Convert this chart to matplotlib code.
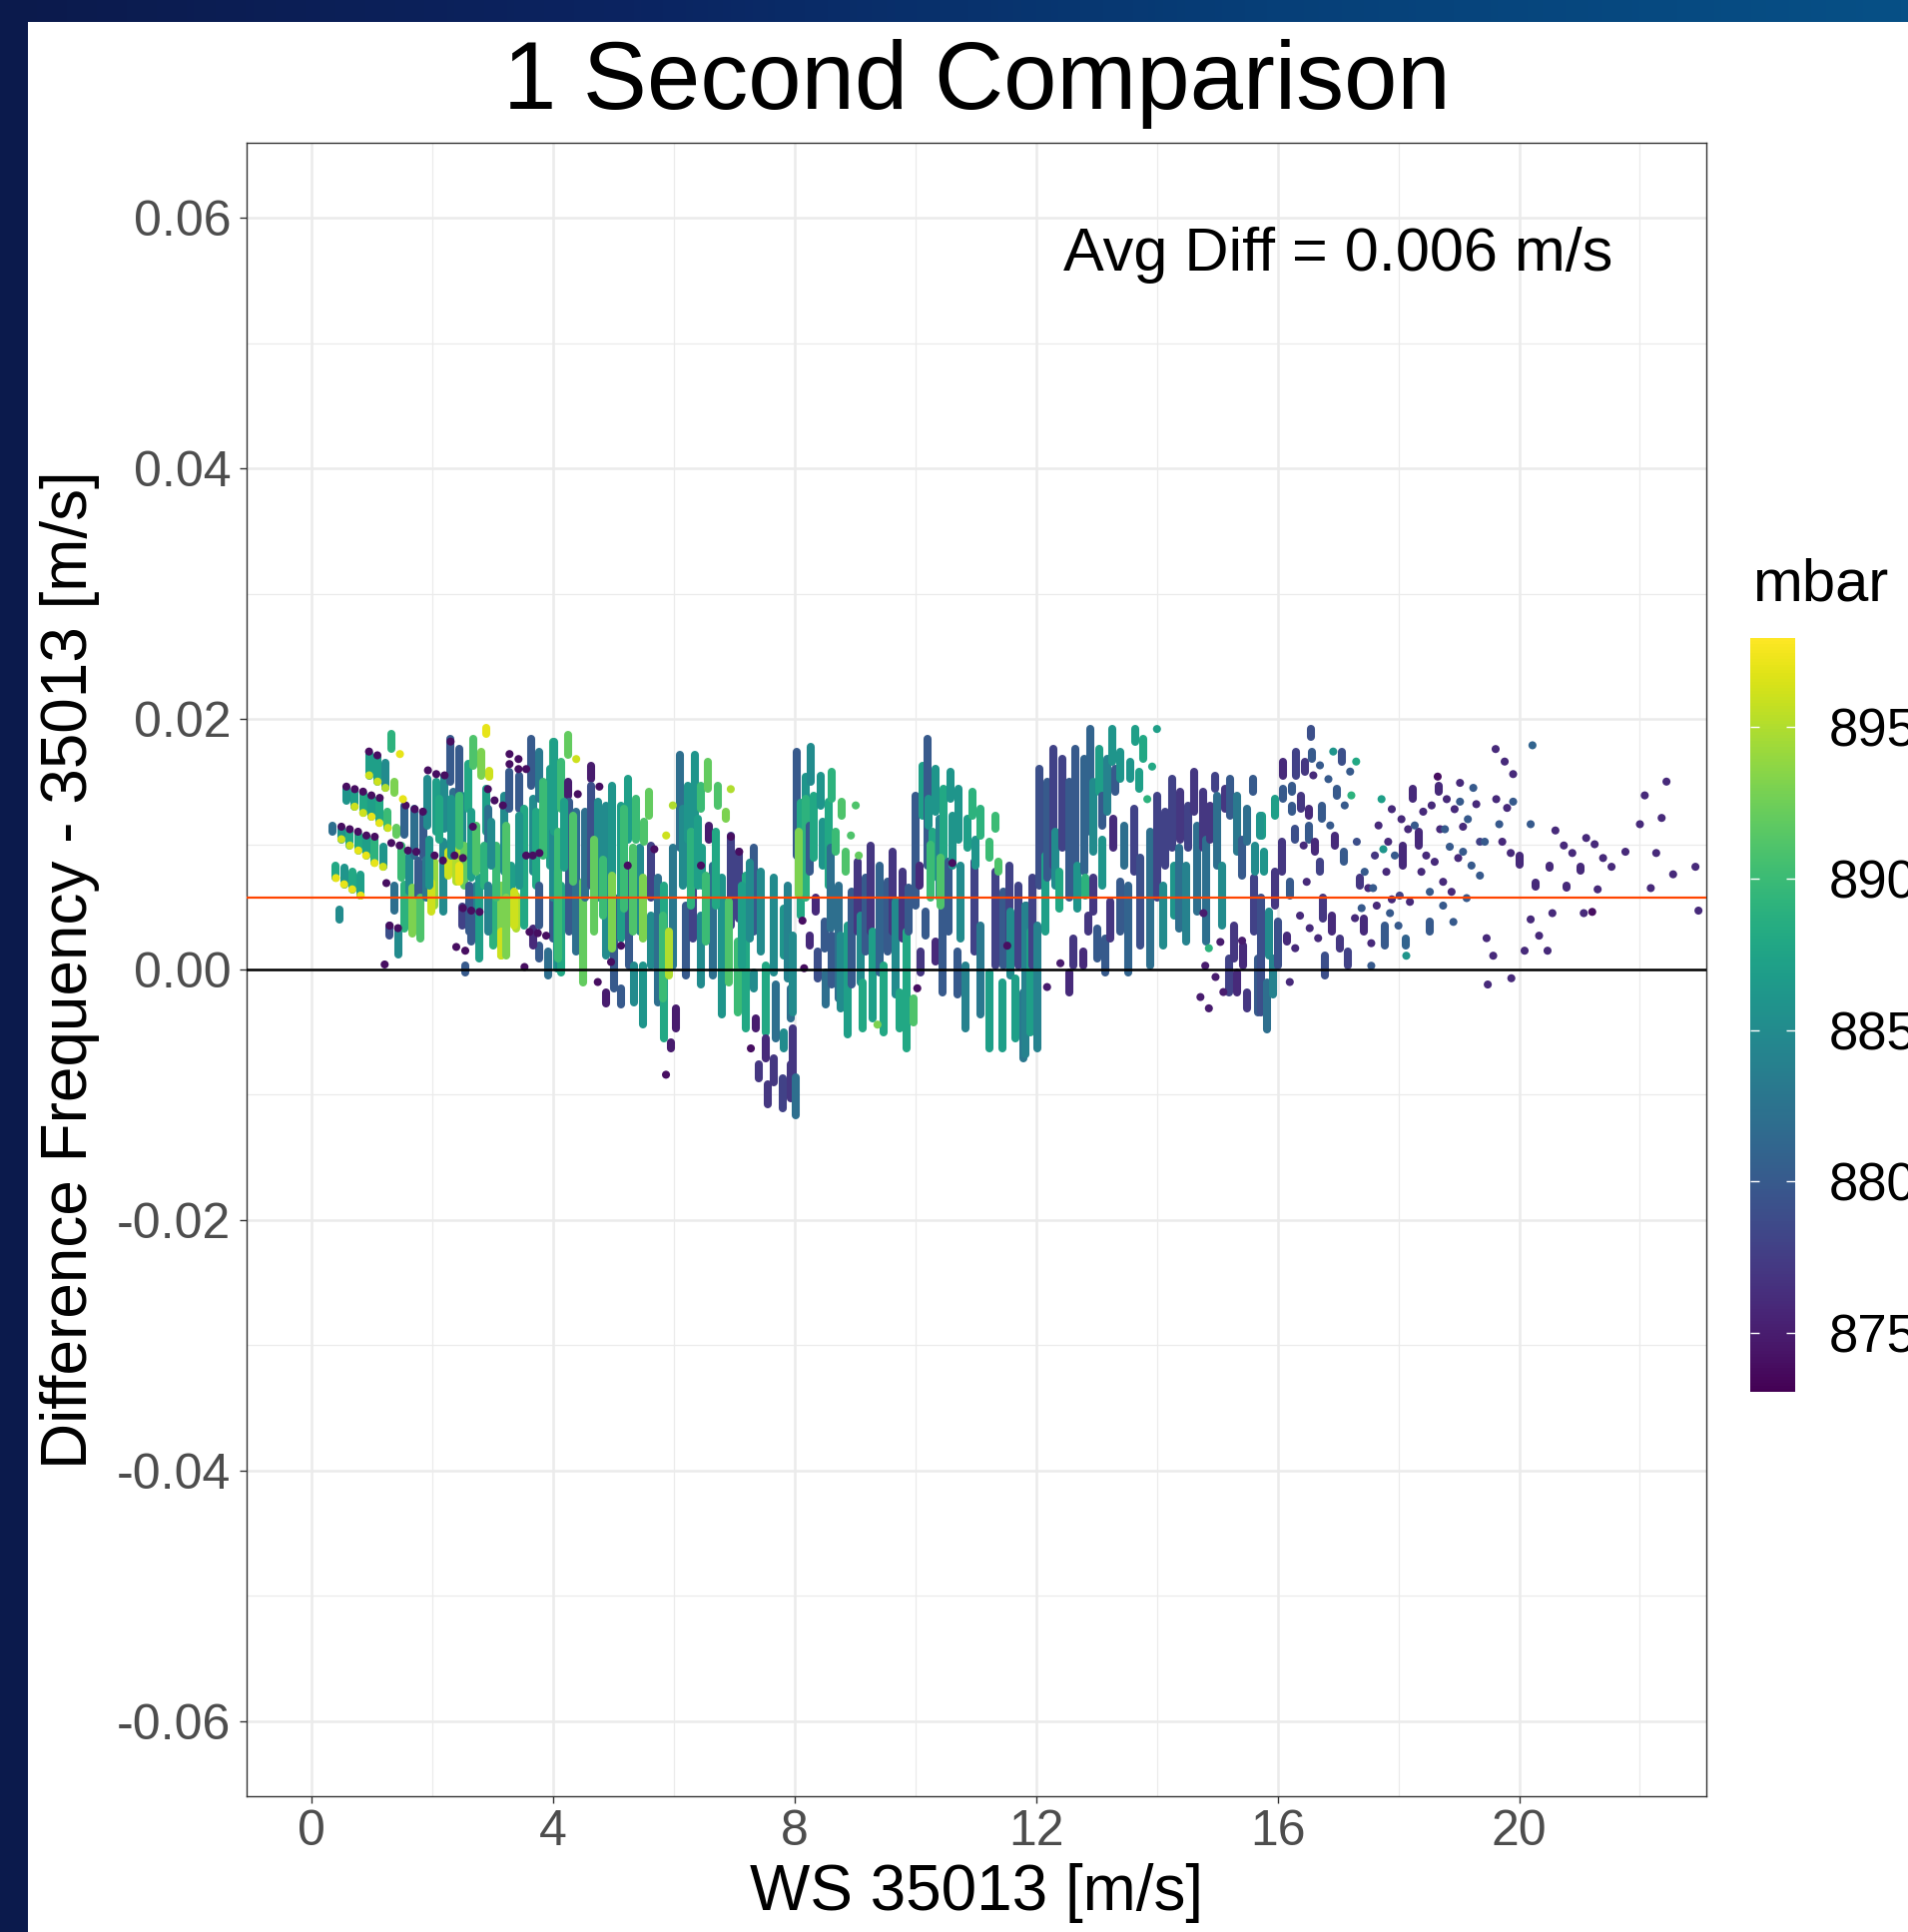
"""Scatter of wind-speed differences (1 s data) coloured by pressure, ggplot look."""

import numpy as np
import matplotlib

matplotlib.use("Agg")
import matplotlib.pyplot as plt
from matplotlib.cm import ScalarMappable
from matplotlib.collections import LineCollection
from matplotlib.colors import LinearSegmentedColormap, Normalize
from matplotlib.patches import Rectangle

plt.rcParams["font.family"] = ["Liberation Sans", "DejaVu Sans"]

TITLE = "1 Second Comparison"
X_LABEL = "WS 35013 [m/s]"
Y_LABEL = "Difference Frequency - 35013 [m/s]"
ANNOTATION = "Avg Diff = 0.006 m/s"
LEGEND_TITLE = "mbar"
AVG_DIFF = 0.0057
MBAR_MIN, MBAR_MAX = 873.06, 897.93
X_TICKS = [0, 4, 8, 12, 16, 20]
X_MINOR = [2, 6, 10, 14, 18, 22]
Y_TICKS = [-0.06, -0.04, -0.02, 0.00, 0.02, 0.04, 0.06]
Y_MINOR = [-0.05, -0.03, -0.01, 0.01, 0.03, 0.05]
MBAR_TICKS = [875, 880, 885, 890, 895]

# vertical runs of stacked points: (ws, diff top, diff bottom, mbar)
RUNS_0_4 = [
    (0.40, 0.0083, 0.0073, 888), (0.535, 0.0081, 0.0068, 886), (0.67, 0.0078, 0.0064, 888),
    (0.81, 0.0076, 0.0059, 887), (0.45, 0.0048, 0.0040, 885), (0.35, 0.0115, 0.0110, 882),
    (0.49, 0.0112, 0.0104, 886), (0.63, 0.0110, 0.0099, 888), (0.77, 0.0108, 0.0095, 888),
    (0.90, 0.0106, 0.0091, 887), (1.04, 0.0104, 0.0085, 889), (1.18, 0.0098, 0.0082, 886),
    (0.57, 0.0144, 0.0135, 886), (0.71, 0.0142, 0.0130, 887), (0.85, 0.0140, 0.0125, 888),
    (0.99, 0.0138, 0.0122, 887), (1.12, 0.0136, 0.0117, 888), (1.26, 0.0126, 0.0113, 890),
    (1.40, 0.0113, 0.0108, 892), (0.95, 0.0172, 0.0155, 887), (1.09, 0.0170, 0.0150, 887),
    (1.22, 0.0165, 0.0145, 885), (1.36, 0.0150, 0.0141, 893), (1.32, 0.0188, 0.0176, 889),
    (1.29, 0.0035, 0.0027, 879), (1.43, 0.0033, 0.0012, 885), (1.37, 0.0067, 0.0047, 882),
    (1.48, 0.0099, 0.0073, 890), (1.54, 0.0131, 0.0108, 881), (1.54, 0.0068, 0.0033, 889),
    (1.62, 0.0091, 0.0062, 885), (1.66, 0.0065, 0.0029, 893), (1.70, 0.0128, 0.0091, 882),
    (1.76, 0.0087, 0.0059, 880), (1.79, 0.0057, 0.0025, 891), (1.84, 0.0126, 0.0091, 880),
    (1.90, 0.0088, 0.0057, 883), (1.92, 0.0152, 0.0115, 885), (2.03, 0.0086, 0.0051, 894),
    (2.06, 0.0150, 0.0110, 887), (2.17, 0.0102, 0.0046, 885), (2.20, 0.0155, 0.0112, 885),
    (2.26, 0.0094, 0.0075, 896), (2.30, 0.0184, 0.0150, 880), (2.34, 0.0142, 0.0110, 882),
    (2.39, 0.0099, 0.0070, 895), (2.44, 0.0176, 0.0142, 880), (2.50, 0.0139, 0.0099, 885),
    (2.53, 0.0099, 0.0067, 892), (2.59, 0.0164, 0.0128, 888), (2.64, 0.0126, 0.0073, 887),
    (2.67, 0.0184, 0.0163, 891), (2.72, 0.0067, 0.0033, 884), (2.78, 0.0073, 0.0009, 887),
    (2.81, 0.0174, 0.0155, 893), (2.89, 0.0193, 0.0188, 897), (2.89, 0.0144, 0.0110, 887),
    (2.94, 0.0159, 0.0154, 896), (2.92, 0.0128, 0.0094, 882), (3.00, 0.0062, 0.0019, 889),
    (3.14, 0.0067, 0.0011, 893), (3.05, 0.0099, 0.0057, 890), (3.19, 0.0139, 0.0078, 885),
    (3.27, 0.0158, 0.0128, 880), (3.30, 0.0083, 0.0043, 887), (3.39, 0.0059, 0.0033, 895),
    (3.44, 0.0155, 0.0128, 880), (3.52, 0.0128, 0.0035, 888), (3.63, 0.0184, 0.0147, 880),
    (3.66, 0.0136, 0.0078, 885), (3.77, 0.0174, 0.0136, 883), (3.77, 0.0019, 0.0009, 880),
    (3.91, 0.0014, -0.0005, 882), (3.99, 0.0182, 0.0142, 889), (3.94, 0.0160, 0.0083, 887),
    (2.54, 0.0003, -0.0002, 880), (2.50, 0.0050, 0.0035, 878), (2.64, 0.0043, 0.0022, 880),
    (3.66, 0.0033, 0.0019, 876), (3.99, 0.0057, 0.0025, 880), (1.98, 0.0069, 0.0046, 896),
    (2.44, 0.0083, 0.0070, 897), (3.14, 0.0030, 0.0011, 896), (3.36, 0.0062, 0.0035, 896),
    (1.95, 0.0104, 0.0067, 886), (2.12, 0.0136, 0.0104, 888), (2.31, 0.0136, 0.0091, 886),
    (2.45, 0.0139, 0.0099, 890), (2.72, 0.0115, 0.0078, 891), (2.86, 0.0099, 0.0067, 889),
    (2.97, 0.0118, 0.0083, 885), (3.22, 0.0115, 0.0057, 891), (3.44, 0.0123, 0.0067, 886),
    (3.72, 0.0126, 0.0067, 888), (3.83, 0.0150, 0.0091, 890), (3.99, 0.0110, 0.0057, 885),
    (2.61, 0.0067, 0.0030, 880), (2.92, 0.0067, 0.0030, 884), (3.22, 0.0057, 0.0011, 893),
    (3.77, 0.0067, 0.0035, 880),
]
RUNS_4_8 = [
    (4.07, 0.0078, 0.0001, 886), (4.10, 0.0059, 0.0003, 885),
    (4.02, 0.0182, 0.0110, 887), (4.13, 0.0166, 0.0128, 890), (4.13, 0.0067, -0.0002, 888),
    (4.24, 0.0187, 0.0171, 892), (4.24, 0.0150, 0.0139, 875), (4.27, 0.0134, 0.0030, 880),
    (4.38, 0.0126, 0.0014, 882), (4.49, 0.0070, -0.0010, 892), (4.52, 0.0126, 0.0057, 882),
    (4.63, 0.0163, 0.0152, 875), (4.63, 0.0147, 0.0067, 879), (4.74, 0.0134, 0.0057, 885),
    (4.87, 0.0131, 0.0011, 885), (4.87, -0.0018, -0.0027, 875), (4.98, 0.0147, 0.0075, 886),
    (5.01, 0.0057, -0.0015, 880), (5.12, 0.0131, 0.0025, 887), (5.12, -0.0015, -0.0028, 880),
    (5.23, 0.0152, 0.0104, 887), (5.26, 0.0078, 0.0003, 880), (5.34, 0.0003, -0.0026, 885),
    (5.37, 0.0136, 0.0104, 890), (5.43, 0.0097, 0.0030, 885), (5.48, 0.0003, -0.0044, 886),
    (5.51, 0.0118, 0.0102, 891), (5.59, 0.0142, 0.0123, 892), (5.62, 0.0099, 0.0057, 878),
    (5.62, 0.0043, 0.0003, 885), (5.73, 0.0073, -0.0026, 882), (5.84, 0.0067, -0.0055, 888),
    (5.95, -0.0058, -0.0063, 875), (5.98, 0.0097, 0.0003, 883), (6.03, -0.0031, -0.0047, 875),
    (6.09, 0.0171, 0.0097, 882), (6.14, 0.0128, 0.0067, 885), (6.20, 0.0051, -0.0005, 880),
    (6.23, 0.0147, 0.0104, 886), (6.34, 0.0171, 0.0115, 886), (6.31, 0.0089, 0.0025, 878),
    (6.45, 0.0147, 0.0128, 890), (6.45, 0.0043, -0.0012, 885), (6.47, 0.0097, 0.0067, 887),
    (6.56, 0.0166, 0.0144, 892), (6.58, 0.0115, 0.0104, 875), (6.64, 0.0083, -0.0005, 882),
    (6.72, 0.0147, 0.0131, 891), (6.80, 0.0073, -0.0036, 886), (6.86, 0.0126, 0.0120, 893),
    (6.94, 0.0107, 0.0035, 878), (7.05, 0.0022, -0.0034, 890), (7.08, 0.0094, 0.0041, 878),
    (7.19, 0.0075, -0.0047, 888), (7.33, 0.0097, 0.0030, 880), (7.33, -0.0002, -0.0015, 885),
    (7.36, -0.0039, -0.0047, 875), (7.44, 0.0078, 0.0014, 885), (7.41, -0.0076, -0.0087, 877),
    (7.52, 0.0003, -0.0050, 888), (7.52, -0.0055, -0.0071, 876), (7.55, -0.0092, -0.0108, 877),
    (7.66, 0.0073, -0.0002, 885), (7.66, -0.0071, -0.0090, 877), (7.69, -0.0012, -0.0055, 882),
    (7.82, 0.0049, 0.0011, 886), (7.82, -0.0050, -0.0063, 885), (7.80, -0.0087, -0.0111, 878),
    (7.93, -0.0015, -0.0039, 882), (7.93, -0.0076, -0.0103, 877), (7.88, 0.0067, -0.0007, 884),
    (4.08, 0.0110, 0.0009, 890), (4.18, 0.0134, 0.0081, 887), (4.33, 0.0123, 0.0070, 891),
    (4.68, 0.0104, 0.0030, 892), (4.82, 0.0088, 0.0043, 890), (4.98, 0.0075, 0.0017, 893),
    (5.18, 0.0128, 0.0049, 890), (5.32, 0.0097, 0.0030, 891), (5.48, 0.0073, 0.0025, 893),
    (5.81, 0.0043, -0.0023, 890), (5.92, 0.0030, -0.0005, 895), (6.28, 0.0110, 0.0051, 889),
    (6.40, 0.0120, 0.0067, 887), (6.52, 0.0075, 0.0022, 890), (6.69, 0.0110, 0.0051, 888),
    (6.91, 0.0054, -0.0010, 891), (7.13, 0.0067, 0.0003, 887), (7.25, 0.0085, 0.0025, 885),
]
RUNS_8_12 = [
    (7.96, 0.0027, -0.0034, 885), (7.97, -0.0047, -0.0095, 877), (8.02, -0.0086, -0.0116, 882),
    (8.04, 0.0174, 0.0091, 880), (8.10, 0.0133, 0.0043, 888), (8.18, 0.0154, 0.0136, 886),
    (8.18, 0.0136, 0.0057, 889), (8.24, 0.0115, 0.0078, 880), (8.26, 0.0178, 0.0150, 885),
    (8.24, 0.0027, 0.0019, 876), (8.32, 0.0139, 0.0089, 888), (8.35, 0.0057, 0.0046, 876),
    (8.38, 0.0014, -0.0007, 879), (8.43, 0.0155, 0.0131, 886), (8.46, 0.0118, 0.0083, 886),
    (8.49, 0.0038, 0.0017, 880), (8.51, -0.0002, -0.0028, 882), (8.56, 0.0134, 0.0067, 888),
    (8.60, 0.0097, 0.0033, 882), (8.62, 0.0158, 0.0136, 889), (8.61, 0.0027, -0.0012, 880),
    (8.68, 0.0110, 0.0094, 890), (8.73, 0.0067, -0.0023, 882), (8.76, 0.0027, -0.0031, 885),
    (8.78, 0.0134, 0.0123, 891), (8.84, 0.0094, 0.0078, 891), (8.87, 0.0035, -0.0052, 887),
    (8.95, 0.0062, -0.0012, 880), (9.04, 0.0086, 0.0030, 877), (9.09, 0.0043, -0.0010, 885),
    (9.12, -0.0010, -0.0047, 888), (9.18, 0.0073, 0.0014, 880), (9.26, 0.0099, 0.0030, 877),
    (9.29, 0.0030, -0.0039, 887), (9.40, 0.0083, -0.0002, 881), (9.48, 0.0003, -0.0050, 888),
    (9.53, 0.0070, 0.0014, 880), (9.62, 0.0094, 0.0030, 877), (9.67, 0.0054, -0.0020, 885),
    (9.73, -0.0018, -0.0047, 888), (9.78, 0.0078, 0.0025, 877), (9.86, 0.0030, -0.0063, 888),
    (9.89, 0.0065, 0.0030, 880), (9.97, -0.0023, -0.0042, 891), (10.00, 0.0139, 0.0051, 880),
    (10.06, 0.0083, 0.0067, 876), (10.08, 0.0014, -0.0002, 877), (10.11, 0.0163, 0.0123, 887),
    (10.17, 0.0046, 0.0027, 880), (10.20, 0.0184, 0.0083, 880), (10.22, 0.0136, 0.0115, 886),
    (10.28, 0.0110, 0.0073, 888), (10.33, 0.0160, 0.0126, 886), (10.33, 0.0022, 0.0006, 876),
    (10.39, 0.0120, 0.0057, 884), (10.44, 0.0057, -0.0018, 880), (10.47, 0.0144, 0.0078, 888),
    (10.55, 0.0086, 0.0030, 880), (10.58, 0.0158, 0.0136, 886), (10.61, 0.0123, 0.0083, 886),
    (10.69, 0.0014, -0.0020, 880), (10.72, 0.0144, 0.0104, 886), (10.75, 0.0083, 0.0025, 885),
    (10.83, 0.0003, -0.0047, 884), (10.86, 0.0120, 0.0097, 887), (10.94, 0.0142, 0.0123, 889),
    (10.97, 0.0086, 0.0014, 878), (10.99, 0.0104, 0.0083, 886), (11.08, 0.0128, 0.0107, 889),
    (11.08, 0.0035, -0.0036, 883), (11.22, 0.0102, 0.0089, 890), (11.22, -0.0002, -0.0063, 887),
    (11.33, 0.0123, 0.0112, 890), (11.33, 0.0078, 0.0003, 878), (11.38, 0.0086, 0.0078, 891),
    (11.44, -0.0010, -0.0063, 887), (11.46, 0.0062, 0.0003, 880), (11.55, 0.0083, 0.0019, 878),
    (11.57, 0.0046, -0.0005, 885), (11.66, -0.0007, -0.0055, 887), (11.71, 0.0067, 0.0003, 878),
    (11.79, -0.0018, -0.0071, 883), (11.83, 0.0051, -0.0023, 880), (8.07, 0.0110, 0.0060, 893),
    (10.25, 0.0100, 0.0057, 890), (10.42, 0.0089, 0.0051, 891),
]
RUNS_12_16 = [
    (11.82, 0.0051, -0.0068, 884), (11.91, 0.0030, -0.0050, 887), (11.93, 0.0073, 0.0003, 878),
    (12.02, 0.0035, -0.0063, 884), (12.06, 0.0160, 0.0067, 879), (12.15, 0.0091, 0.0030, 887),
    (12.19, 0.0150, 0.0073, 880), (12.29, 0.0176, 0.0083, 878), (12.32, 0.0110, 0.0067, 885),
    (12.39, 0.0078, 0.0049, 888), (12.43, 0.0168, 0.0097, 878), (12.54, -0.0002, -0.0018, 876),
    (12.54, 0.0150, 0.0057, 880), (12.62, 0.0025, 0.0003, 877), (12.65, 0.0176, 0.0083, 880),
    (12.68, 0.0083, 0.0049, 886), (12.78, 0.0014, 0.0003, 876), (12.79, 0.0168, 0.0078, 881),
    (12.82, 0.0073, 0.0059, 889), (12.87, 0.0043, 0.0030, 877), (12.90, 0.0192, 0.0110, 881),
    (12.95, 0.0150, 0.0094, 885), (12.95, 0.0073, 0.0046, 877), (13.01, 0.0033, 0.0009, 880),
    (13.04, 0.0176, 0.0142, 887), (13.09, 0.0139, 0.0115, 880), (13.09, 0.0104, 0.0067, 886),
    (13.15, 0.0025, -0.0002, 880), (13.17, 0.0168, 0.0126, 884), (13.23, 0.0054, 0.0025, 877),
    (13.26, 0.0192, 0.0166, 886), (13.28, 0.0120, 0.0097, 876), (13.31, 0.0160, 0.0142, 880),
    (13.39, 0.0174, 0.0152, 886), (13.39, 0.0070, 0.0030, 880), (13.45, 0.0115, 0.0083, 882),
    (13.53, 0.0067, -0.0002, 881), (13.56, 0.0166, 0.0152, 886), (13.64, 0.0192, 0.0182, 887),
    (13.62, 0.0128, 0.0078, 878), (13.70, 0.0158, 0.0144, 887), (13.73, 0.0089, 0.0019, 879),
    (13.78, 0.0184, 0.0168, 888), (13.89, 0.0110, 0.0003, 882), (14.00, 0.0139, 0.0057, 878),
    (14.11, 0.0067, 0.0019, 885), (14.14, 0.0126, 0.0083, 878), (14.25, 0.0152, 0.0097, 878),
    (14.28, 0.0083, 0.0043, 886), (14.36, 0.0097, 0.0033, 882), (14.39, 0.0142, 0.0104, 877),
    (14.49, 0.0083, 0.0022, 884), (14.52, 0.0131, 0.0097, 878), (14.61, 0.0158, 0.0126, 877),
    (14.66, 0.0115, 0.0046, 882), (14.77, 0.0142, 0.0097, 877), (14.82, 0.0104, 0.0022, 882),
    (14.88, 0.0131, 0.0104, 877), (14.97, 0.0155, 0.0144, 878), (14.99, 0.0139, 0.0083, 882),
    (15.08, 0.0083, 0.0035, 885), (15.13, 0.0144, 0.0128, 877), (15.19, 0.0009, -0.0018, 878),
    (15.21, 0.0152, 0.0123, 880), (15.27, 0.0035, 0.0009, 877), (15.32, 0.0139, 0.0094, 883),
    (15.32, -0.0002, -0.0018, 876), (15.41, 0.0104, 0.0075, 880), (15.43, 0.0019, 0.0003, 876),
    (15.49, 0.0128, 0.0102, 882), (15.49, -0.0018, -0.0031, 877), (15.59, 0.0152, 0.0142, 880),
    (15.60, 0.0073, 0.0030, 878), (15.63, 0.0099, 0.0078, 885), (15.68, 0.0009, -0.0034, 880),
    (15.74, 0.0123, 0.0107, 887),
]
RUNS_16_UP = [
    (15.71, 0.0123, 0.0107, 886), (15.72, 0.0057, -0.0034, 879), (15.78, 0.0094, 0.0078, 886),
    (15.83, -0.0010, -0.0048, 882), (15.85, 0.0046, 0.0011, 885), (15.93, 0.0009, -0.0020, 884),
    (15.96, 0.0136, 0.0123, 887), (15.96, 0.0078, 0.0051, 877), (16.01, 0.0038, 0.0003, 879),
    (16.07, 0.0102, 0.0078, 877), (16.09, 0.0166, 0.0155, 876), (16.09, 0.0144, 0.0136, 880),
    (16.15, 0.0027, 0.0022, 876), (16.20, 0.0070, 0.0059, 880), (16.23, 0.0147, 0.0142, 880),
    (16.23, 0.0131, 0.0126, 880), (16.29, 0.0112, 0.0104, 879), (16.31, 0.0174, 0.0155, 878),
    (16.38, 0.0139, 0.0128, 877), (16.45, 0.0166, 0.0158, 877), (16.51, 0.0128, 0.0123, 876),
    (16.51, 0.0115, 0.0104, 880), (16.55, 0.0192, 0.0186, 879), (16.56, 0.0174, 0.0168, 880),
    (16.62, 0.0102, 0.0094, 876), (16.70, 0.0086, 0.0078, 878), (16.73, 0.0131, 0.0120, 880),
    (16.75, 0.0057, 0.0041, 877), (16.78, 0.0011, -0.0005, 879), (16.89, 0.0043, 0.0030, 876),
    (16.95, 0.0107, 0.0099, 876), (16.98, 0.0144, 0.0139, 880), (17.03, 0.0025, 0.0017, 877),
    (17.06, 0.0174, 0.0166, 879), (17.09, 0.0094, 0.0086, 880), (17.17, 0.0014, 0.0003, 878),
    (17.36, 0.0073, 0.0067, 877), (17.42, 0.0041, 0.0030, 876), (17.78, 0.0035, 0.0019, 880),
    (18.08, 0.0099, 0.0083, 876), (18.13, 0.0025, 0.0019, 881), (18.24, 0.0144, 0.0136, 876),
    (18.33, 0.0110, 0.0099, 876), (18.52, 0.0038, 0.0030, 880), (18.66, 0.0147, 0.0142, 876),
    (20.00, 0.0091, 0.0084, 876), (20.51, 0.0083, 0.0081, 876), (20.28, 0.0069, 0.0066, 876),
    (20.79, 0.0067, 0.0065, 876), (21.02, 0.0082, 0.0079, 876),
]

# single points: (ws, diff, mbar)
POINTS_FAN_ENDS = [
    (0.40, 0.0073, 897), (0.535, 0.0068, 897), (0.67, 0.0064, 897), (0.81, 0.0059, 897),
    (0.49, 0.0104, 896), (0.63, 0.0099, 896), (0.77, 0.0095, 897), (0.90, 0.0091, 897),
    (1.04, 0.0085, 897), (1.18, 0.0082, 896), (0.71, 0.0130, 896), (0.85, 0.0125, 896),
    (0.99, 0.0122, 897), (1.12, 0.0117, 897), (1.26, 0.0113, 896), (0.95, 0.0155, 896),
    (1.09, 0.0150, 896), (1.22, 0.0145, 895),
]
POINTS_0_8 = [
    (0.948, 0.0174, 874), (1.086, 0.0171, 874), (0.573, 0.0146, 874), (0.711, 0.0144, 874),
    (0.849, 0.0142, 874), (0.987, 0.0139, 874), (1.125, 0.0137, 874), (0.490, 0.0114, 874),
    (0.628, 0.0112, 874), (0.766, 0.0110, 874), (0.904, 0.0107, 874), (1.042, 0.0106, 874),
    (1.235, 0.0069, 874), (1.290, 0.0035, 874), (1.428, 0.0033, 874), (1.555, 0.0131, 874),
    (1.704, 0.0128, 874), (1.841, 0.0126, 874), (1.924, 0.0159, 874), (2.062, 0.0156, 874),
    (2.200, 0.0155, 874), (2.299, 0.0182, 874), (1.317, 0.0101, 874), (1.455, 0.0099, 874),
    (1.593, 0.0095, 874), (1.731, 0.0094, 874), (2.034, 0.0091, 874), (2.172, 0.0087, 874),
    (2.365, 0.0091, 874), (2.503, 0.0089, 874), (2.668, 0.0114, 874), (2.917, 0.0144, 874),
    (3.027, 0.0135, 874), (3.275, 0.0172, 874), (3.275, 0.0164, 874), (3.424, 0.0168, 874),
    (3.424, 0.0160, 874), (3.551, 0.0160, 874), (3.165, 0.0131, 874), (3.551, 0.0091, 874),
    (3.661, 0.0091, 874), (3.771, 0.0093, 874), (3.606, 0.0030, 874), (3.744, 0.0029, 874),
    (3.882, 0.0027, 874), (2.393, 0.0018, 874), (2.542, 0.0015, 874), (1.207, 0.0004, 874),
    (3.523, 0.0002, 874), (2.503, 0.0049, 874), (2.641, 0.0047, 874), (2.779, 0.0046, 874),
    (1.46, 0.0172, 897), (1.51, 0.0136, 897),
    (4.406, 0.0140, 874), (4.764, 0.0146, 874), (4.737, -0.0010, 874), (5.867, -0.0084, 874),
    (7.273, -0.0063, 874), (6.942, 0.0106, 874), (7.080, 0.0094, 874), (6.446, 0.0083, 874),
    (5.233, 0.0083, 874), (5.674, 0.0096, 874), (4.957, 0.0006, 874), (5.123, 0.0019, 874),
    (4.38, 0.0168, 896), (5.87, 0.0107, 896), (5.98, 0.0131, 895), (6.94, 0.0144, 895),
]
POINTS_8_16 = [
    (8.155, 0.0001, 874), (8.128, 0.0039, 874), (10.61, 0.0085, 874), (10.03, -0.0015, 874),
    (11.52, 0.0019, 874), (8.93, 0.0107, 891), (9.01, 0.0131, 891), (9.06, 0.0091, 892),
    (9.37, -0.0044, 893),
    (12.18, -0.0014, 875), (12.40, 0.0005, 875), (14.77, 0.0045, 875), (14.80, 0.0003, 875),
    (14.97, -0.0006, 875), (15.10, -0.0018, 875), (14.72, -0.0022, 875), (14.86, -0.0031, 875),
    (15.05, 0.0022, 875), (15.41, 0.0023, 875),
    (13.84, 0.0136, 889), (13.92, 0.0162, 888), (14.00, 0.0192, 887), (14.86, 0.0017, 889),
]
POINTS_16_UP = [
    (16.20, -0.0010, 876), (16.29, 0.0017, 876), (16.37, 0.0043, 876), (16.43, 0.0099, 876),
    (16.48, 0.0070, 876), (16.53, 0.0033, 876), (16.59, 0.0155, 876), (16.67, 0.0025, 876),
    (16.70, 0.0163, 880), (16.84, 0.0152, 880), (16.87, 0.0115, 880), (16.92, 0.0174, 886),
    (17.11, 0.0131, 880), (17.20, 0.0158, 880), (17.22, 0.0139, 889), (17.30, 0.0166, 888),
    (17.28, 0.0041, 876), (17.31, 0.0102, 879), (17.39, 0.0049, 880), (17.44, 0.0078, 880),
    (17.50, 0.0065, 876), (17.55, 0.0003, 880), (17.55, 0.0021, 876), (17.58, 0.0065, 880),
    (17.61, 0.0091, 877), (17.64, 0.0051, 876), (17.67, 0.0115, 876), (17.72, 0.0136, 887),
    (17.75, 0.0096, 886), (17.80, 0.0078, 876), (17.83, 0.0102, 876), (17.86, 0.0045, 880),
    (17.89, 0.0128, 876), (17.89, 0.0056, 876), (17.94, 0.0091, 880), (18.00, 0.0035, 880),
    (18.02, 0.0059, 878), (18.05, 0.0120, 876), (18.13, 0.0011, 886), (18.16, 0.0112, 876),
    (18.19, 0.0054, 876), (18.27, 0.0115, 880), (18.38, 0.0078, 876), (18.41, 0.0126, 876),
    (18.46, 0.0091, 876), (18.52, 0.0062, 880), (18.55, 0.0131, 876), (18.60, 0.0086, 876),
    (18.65, 0.0154, 874), (18.69, 0.0112, 876), (18.74, 0.0051, 880), (18.74, 0.0070, 876),
    (18.77, 0.0112, 880), (18.80, 0.0136, 876), (18.85, 0.0098, 880), (18.88, 0.0062, 876),
    (18.91, 0.0038, 880), (18.93, 0.0128, 876), (18.99, 0.0089, 876), (19.02, 0.0149, 876),
    (19.02, 0.0134, 880), (19.07, 0.0114, 876), (19.07, 0.0094, 880), (19.13, 0.0057, 880),
    (19.15, 0.0120, 880), (19.21, 0.0083, 880), (19.24, 0.0145, 880), (19.29, 0.0132, 876),
    (19.35, 0.0102, 878), (19.35, 0.0075, 880), (19.43, 0.0102, 880), (19.46, 0.0025, 876),
    (19.48, -0.0012, 876), (19.57, 0.0011, 876), (19.61, 0.0176, 876), (19.62, 0.0136, 876),
]
POINTS_20_UP = [
    (19.76, 0.0166, 876), (19.90, 0.0156, 876), (19.80, 0.0129, 876), (19.90, 0.0134, 880),
    (19.67, 0.0116, 880), (19.72, 0.0102, 876), (19.86, 0.0093, 876), (20.22, 0.0179, 881),
    (20.19, 0.0116, 880), (20.60, 0.0111, 876), (20.74, 0.0099, 876), (20.88, 0.0093, 876),
    (21.11, 0.0105, 876), (21.25, 0.0100, 876), (21.39, 0.0089, 876), (21.53, 0.0082, 876),
    (21.30, 0.0064, 876), (21.76, 0.0094, 876), (22.00, 0.0116, 876), (22.08, 0.0139, 876),
    (22.27, 0.0093, 876), (22.18, 0.0065, 876), (22.36, 0.0121, 876), (22.44, 0.0150, 876),
    (22.55, 0.0076, 876), (22.92, 0.0082, 876), (22.97, 0.0047, 876), (20.55, 0.0045, 876),
    (20.19, 0.0040, 876), (20.33, 0.0027, 876), (20.09, 0.0015, 876), (20.47, 0.0015, 876),
    (21.07, 0.0045, 876), (21.21, 0.0046, 874), (19.87, -0.0007, 876),
]

FIG_W, FIG_H = 1911, 1935
GRID = "#EBEBEB"
DARK = "#333333"
TICK_TEXT = "#4D4D4D"
POINT_SIZE_PT = 5.8


def draw_runs(ax, runs, norm):
    segs = [[(ws, top), (ws, bot)] for ws, top, bot, _ in runs]
    lc = LineCollection(segs, cmap="viridis", norm=norm, linewidths=POINT_SIZE_PT,
                        capstyle="round", zorder=3)
    lc.set_array(np.array([r[3] for r in runs], dtype=float))
    ax.add_collection(lc)


def draw_points(ax, points, norm):
    ws, diff, mbar = zip(*points)
    ax.scatter(ws, diff, c=mbar, cmap="viridis", norm=norm, s=POINT_SIZE_PT ** 2,
               linewidths=0, zorder=3)


fig = plt.figure(figsize=(FIG_W / 100, FIG_H / 100), dpi=100)

# slide background: blue gradient frame with a white card
bg = fig.add_axes([0, 0, 1, 1], zorder=-10)
bg.set_axis_off()
slide = LinearSegmentedColormap.from_list("slide", ["#0b1a4c", "#0b2461", "#063f78", "#075086"])
bg.imshow(np.linspace(0, 1, 256).reshape(1, -1), aspect="auto", cmap=slide,
          extent=[0, 1, 0, 1])
bg.add_patch(Rectangle((28 / FIG_W, 0), 1, 1 - 22 / FIG_H, transform=bg.transAxes,
                       facecolor="white", edgecolor="none"))
bg.set_xlim(0, 1)
bg.set_ylim(0, 1)

ax = fig.add_axes([247 / FIG_W, 1 - 1799 / FIG_H, 1462 / FIG_W, 1656 / FIG_H])
norm = Normalize(MBAR_MIN, MBAR_MAX)

for runs in (RUNS_0_4, RUNS_4_8, RUNS_8_12, RUNS_12_16, RUNS_16_UP):
    draw_runs(ax, runs, norm)
for pts in (POINTS_FAN_ENDS, POINTS_0_8, POINTS_8_16, POINTS_16_UP, POINTS_20_UP):
    draw_points(ax, pts, norm)

ax.axhline(0, color="black", linewidth=1.8, zorder=4)
ax.axhline(AVG_DIFF, color="#FF4500", linewidth=1.6, zorder=4)
ax.text(17.0, 0.0570, ANNOTATION, fontsize=44, ha="center", va="center")

ax.set_xlim(-1.08, 23.1)
ax.set_ylim(-0.066, 0.066)
ax.set_xticks(X_TICKS)
ax.set_xticks(X_MINOR, minor=True)
ax.set_yticks(Y_TICKS)
ax.set_yticks(Y_MINOR, minor=True)
ax.set_xticklabels([str(v) for v in X_TICKS])
ax.set_yticklabels([f"{v:.2f}" for v in Y_TICKS])
ax.grid(which="major", color=GRID, linewidth=1.8, zorder=0)
ax.grid(which="minor", color=GRID, linewidth=0.9, zorder=0)
ax.set_axisbelow(True)
ax.tick_params(which="major", length=5.3, width=1.0, color=DARK, labelsize=36,
               labelcolor=TICK_TEXT)
ax.tick_params(axis="x", which="major", pad=4)
ax.tick_params(axis="y", which="major", pad=6)
ax.tick_params(which="minor", length=0)
for spine in ax.spines.values():
    spine.set_color(DARK)
    spine.set_linewidth(1.0)

fig.text(978 / FIG_W, 1 - 109 / FIG_H, TITLE, fontsize=69, ha="center", va="baseline")
fig.text(978 / FIG_W, 1 - 1896 / FIG_H, X_LABEL, fontsize=46, ha="center", va="center")
fig.text(70 / FIG_W, 1 - 971 / FIG_H, Y_LABEL, fontsize=46, rotation=90,
         ha="center", va="center")

# colour bar legend
cax = fig.add_axes([1753 / FIG_W, 1 - 1394 / FIG_H, 45 / FIG_W, 755 / FIG_H])
cbar = fig.colorbar(ScalarMappable(norm=norm, cmap="viridis"), cax=cax)
cbar.outline.set_visible(False)
cbar.set_ticks(MBAR_TICKS)
cbar.minorticks_off()
cax.tick_params(which="major", left=True, right=True, direction="in", color="white",
                length=6.5, width=1.0, labelsize=38, pad=24, labelcolor="black")
fig.text(1755 / FIG_W, 1 - 601 / FIG_H, LEGEND_TITLE, fontsize=43, ha="left",
         va="baseline")

fig.savefig("out.png", dpi=100)
